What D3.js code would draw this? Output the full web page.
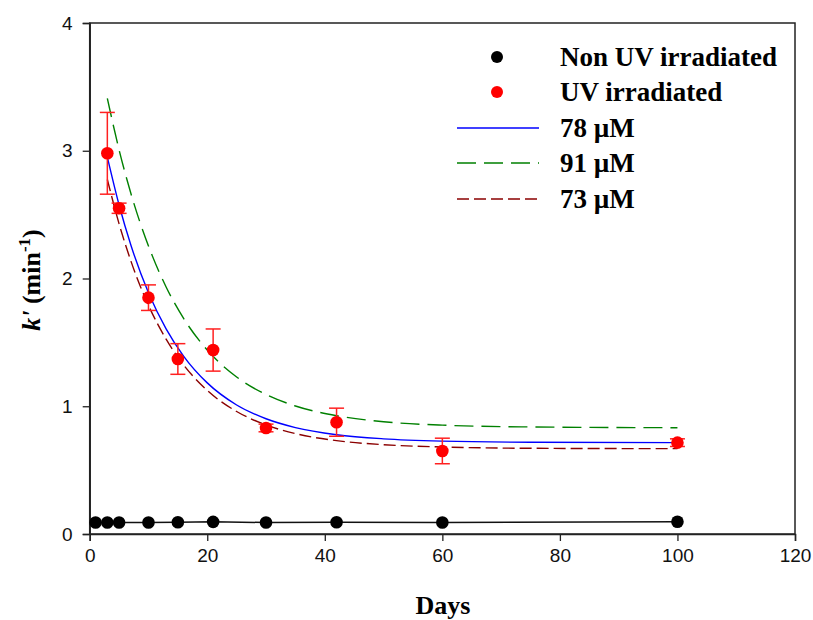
<!DOCTYPE html>
<html><head><meta charset="utf-8">
<script src="https://cdn.jsdelivr.net/npm/d3@7"></script>
<style>body{margin:0;background:#fff}</style>
</head><body>
<svg id="c" width="813" height="620"></svg>
<script>
// Data
const nonUvDays = [1, 3, 5, 10, 15, 21, 30, 42, 60, 100];
const nonUvK = [0.09, 0.09, 0.09, 0.09, 0.092, 0.095, 0.09, 0.092, 0.09, 0.096];
const uvDays = [3, 5, 10, 15, 21, 30, 42, 60, 100];
const uvK = [2.98, 2.55, 1.85, 1.37, 1.44, 0.83, 0.875, 0.65, 0.715];
const uvErr = [0.32, 0.04, 0.1, 0.12, 0.165, 0.03, 0.11, 0.1, 0.03];
const fitDays = [3, 5, 7, 10, 13, 16, 20, 25, 30, 35, 42, 50, 60, 75, 100];
const fit78 = [2.95, 2.575, 2.262, 1.889, 1.606, 1.391, 1.183, 1.010, 0.902, 0.833, 0.777, 0.745, 0.727, 0.718, 0.715];
const fit91 = [3.41, 3.007, 2.667, 2.254, 1.934, 1.686, 1.440, 1.229, 1.092, 1.002, 0.926, 0.879, 0.852, 0.838, 0.832];
const fit73 = [2.775, 2.428, 2.138, 1.790, 1.525, 1.322, 1.124, 0.959, 0.854, 0.786, 0.731, 0.699, 0.681, 0.671, 0.668];
const xTicks = [0, 20, 40, 60, 80, 100, 120];
const yTicks = [0, 1, 2, 3, 4];
const legendLabels = ["Non UV irradiated", "UV irradiated", "78 \u00b5M", "91 \u00b5M", "73 \u00b5M"];

const svg = d3.select("#c");
const L = 89.7, R = 795, T = 23, B = 534;
const x = d3.scaleLinear().domain([0, 120]).range([L, R]);
const y = d3.scaleLinear().domain([0, 4]).range([B, T]);
const axisColor = "#222";

// frame
svg.append("rect").attr("x", L).attr("y", T).attr("width", R - L).attr("height", B - T)
  .attr("fill", "none").attr("stroke", axisColor).attr("stroke-width", 1.5);

const xa = svg.append("g").attr("transform", `translate(0,${B})`)
  .call(d3.axisBottom(x).tickValues(xTicks).tickFormat(d3.format("d")).tickSizeOuter(0).tickSize(7).tickPadding(8));
const ya = svg.append("g").attr("transform", `translate(${L},0)`)
  .call(d3.axisLeft(y).tickValues(yTicks).tickFormat(d3.format("d")).tickSizeOuter(0).tickSize(7).tickPadding(10));
[xa, ya].forEach(a => {
  a.select(".domain").attr("stroke", axisColor).attr("stroke-width", 1.5);
  a.selectAll(".tick line").attr("stroke", axisColor).attr("stroke-width", 1.3);
  a.selectAll(".tick text").attr("font-family", "Liberation Sans, Arial, sans-serif")
    .attr("font-size", 19).attr("fill", "#111");
});

const clr78 = "#0000ff", clr91 = "#008000", clr73 = "#8b0000";
const line = d3.line().x(d => x(d[0])).y(d => y(d[1])).curve(d3.curveMonotoneX);

// Non UV line and points
const nonUv = nonUvDays.map((d, i) => [d, nonUvK[i]]);
svg.append("path").attr("d", d3.line().x(d => x(d[0])).y(d => y(d[1]))(nonUv))
  .attr("fill", "none").attr("stroke", "#111").attr("stroke-width", 1.5);

// fit curves
[[fit91, clr91, "19,8"], [fit73, clr73, "12,5"], [fit78, clr78, null]].forEach(([arr, c, dash]) => {
  const p = svg.append("path").attr("d", line(fitDays.map((d, i) => [d, arr[i]])))
    .attr("fill", "none").attr("stroke", c).attr("stroke-width", 1.4);
  if (dash) p.attr("stroke-dasharray", dash);
});

svg.selectAll("circle.nonuv").data(nonUv).enter().append("circle")
  .attr("cx", d => x(d[0])).attr("cy", d => y(d[1])).attr("r", 6.3).attr("fill", "#000");

// UV error bars and points
const uv = uvDays.map((d, i) => ({ d, k: uvK[i], e: uvErr[i] }));
const eb = svg.append("g").attr("stroke", "#ff2020").attr("stroke-width", 1.5);
uv.forEach(p => {
  eb.append("line").attr("x1", x(p.d)).attr("x2", x(p.d)).attr("y1", y(p.k - p.e)).attr("y2", y(p.k + p.e));
  [p.k - p.e, p.k + p.e].forEach(v => eb.append("line")
    .attr("x1", x(p.d) - 7.5).attr("x2", x(p.d) + 7.5).attr("y1", y(v)).attr("y2", y(v)));
});
svg.selectAll("circle.uv").data(uv).enter().append("circle")
  .attr("cx", p => x(p.d)).attr("cy", p => y(p.k)).attr("r", 6.3).attr("fill", "#ff0000");

// legend
const lgY = [57, 92, 128, 163, 199];
const lg = svg.append("g");
lg.append("circle").attr("cx", 497).attr("cy", lgY[0]).attr("r", 6).attr("fill", "#000");
lg.append("circle").attr("cx", 497).attr("cy", lgY[1]).attr("r", 6).attr("fill", "#ff0000");
[[clr78, null], [clr91, "19,8"], [clr73, "12,5"]].forEach(([c, dash], i) => {
  const l = lg.append("line").attr("x1", 457).attr("x2", 539).attr("y1", lgY[i + 2]).attr("y2", lgY[i + 2])
    .attr("stroke", c).attr("stroke-width", 1.4);
  if (dash) l.attr("stroke-dasharray", dash);
});
legendLabels.forEach((t, i) => {
  lg.append("text").attr("x", 560).attr("y", lgY[i] + 9).text(t)
    .attr("font-family", "Liberation Serif, Times New Roman, serif").attr("font-weight", "bold")
    .attr("font-size", 27).attr("fill", "#000");
});

// axis titles
svg.append("text").attr("x", 443).attr("y", 614).attr("text-anchor", "middle")
  .attr("font-family", "Liberation Serif, Times New Roman, serif").attr("font-weight", "bold")
  .attr("font-size", 26).text("Days");
const yt = svg.append("text").attr("transform", "translate(40,280) rotate(-90)").attr("text-anchor", "middle")
  .attr("font-family", "Liberation Serif, Times New Roman, serif").attr("font-weight", "bold").attr("font-size", 26);
yt.append("tspan").attr("font-style", "italic").text("k'");
yt.append("tspan").text(" (min");
yt.append("tspan").attr("font-size", 17).attr("dy", -10).text("-1");
yt.append("tspan").attr("dy", 10).text(")");
</script>
</body></html>
